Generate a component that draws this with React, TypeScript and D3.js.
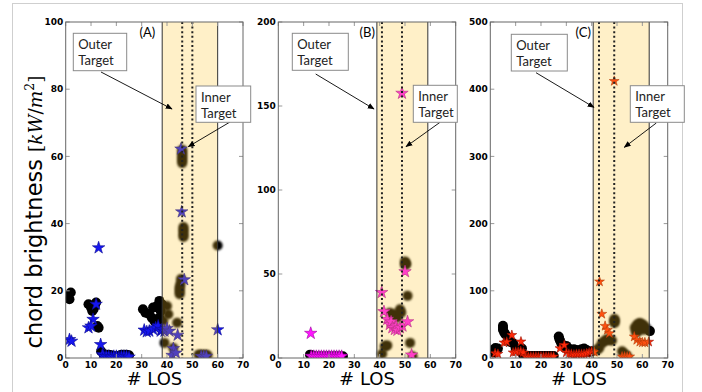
import React from "react";
import * as d3 from "d3";

type Pt = [number, number];

// Shared axis ticks
const xTicks = [0, 10, 20, 30, 40, 50, 60, 70];
const yTicksA = [0, 20, 40, 60, 80, 100];
const yTicksB = [0, 50, 100, 150, 200];
const yTicksC = [0, 100, 200, 300, 400, 500];

// Panel A: measured chords (circles) and model (stars)
const circlesA: Pt[] = [
  [1.5, 17.5], [2, 19.5], [1, 18.5],
  [9, 16], [10, 15], [11, 14.5], [12, 16.5], [11.5, 15.5], [10.5, 14],
  [13, 9], [12.5, 9.5],
  [14, 2], [15, 1], [16, 1], [17, 1], [18, 0.8], [19, 0.5], [20, 0.5], [21, 0.5], [22, 1], [23, 1], [24, 1], [25, 0.8],
  [30.5, 14.5], [31.5, 13.5], [33, 13], [34, 12], [34.5, 15], [35, 11], [36, 15.5], [37, 17], [38, 16], [37, 12], [36, 10], [37.5, 14], [38.5, 11],
  [39, 4.5], [40, 15.5], [40.5, 13], [42.5, 3], [44, 10.5],
  [45, 19], [45, 20], [45, 21], [45.3, 22], [45.5, 23.5],
  [46, 58], [46, 59], [46, 60], [46, 61], [46, 62],
  [46.5, 36], [46.5, 37], [46.5, 38], [46.5, 39],
  [60, 33.5], [52.5, 1], [53.5, 1], [55, 1], [56, 0.8],
];
const starsA: Pt[] = [
  [1.5, 5.5], [2.3, 5], [13, 32.8], [12, 16], [10.8, 11.5], [9, 9], [10, 9.5], [13.8, 4],
  [14.5, 1], [15, 0.5], [16, 0.5], [17, 0.5], [18, 0.3], [19, 0.5], [20, 0.5], [21, 0.3], [22, 0.5], [23, 0.5], [24, 0.5], [25, 0.3],
  [31, 8.3], [32, 7.8], [33, 8], [34.5, 8.5], [35.5, 9], [36.5, 9.5], [37.5, 8], [38, 8.5], [39, 8], [40, 8.8], [41, 8],
  [44.2, 6.8], [42.5, 2.8], [42, 0.8], [43.5, 1.5],
  [45.5, 62.2], [45.8, 43.5], [46.8, 23.3], [60, 8.4],
  [53.5, 0.5], [54.5, 0.5], [55.5, 0.5],
];

// Panel B
const circlesB: Pt[] = [
  [12.5, 2], [13.5, 1.5], [15, 1], [16.5, 1], [18, 1], [19.5, 1], [21, 1], [22.5, 1], [24, 1], [25.5, 1],
  [41, 2.5], [42, 7], [43, 7.5], [44, 27], [45, 25], [46, 26], [47, 24], [48, 29], [48.5, 27],
  [50, 55.5], [50, 57.5], [50.5, 56], [51, 37], [52, 9], [53, 1],
];
const starsB: Pt[] = [
  [12.8, 14.7],
  [13, 1], [14, 1], [15, 1], [16, 1], [17, 1], [18, 1], [19, 1], [20, 1], [21, 1], [22, 1], [23, 1], [24, 1], [25, 1],
  [40.8, 39], [41.7, 27.6], [43, 23], [44, 20], [44.5, 21.5], [45, 18], [46, 17], [46.5, 19], [47, 16.5], [48, 18], [49, 19],
  [50, 51.4], [51, 21.6], [52.6, 1.8], [48.8, 157.6],
];

// Panel C
const circlesC: Pt[] = [
  [1, 12], [2, 15], [3, 14], [1.5, 8],
  [5, 48], [5, 45], [5, 42], [5.5, 38], [6, 35],
  [7, 30], [7.5, 27], [8, 24], [9, 22], [10, 15], [11, 12], [12, 10], [12.5, 14],
  [13, 4], [14, 3], [15, 3], [16, 3], [17, 3], [18, 3], [19, 3], [20, 3], [21, 3], [22, 3], [23, 3], [24, 3], [25, 3],
  [27, 32], [27.2, 29], [27.5, 26], [28, 22], [29, 18], [30, 18], [31, 14], [32, 12], [33, 13], [34, 12], [35, 11], [36, 13], [37, 14], [38, 12], [39, 9], [40, 10],
  [42, 12], [43, 15], [44, 22], [45, 25], [46, 28], [47, 27], [48, 26],
  [49, 52], [49, 55], [49, 58], [52, 10], [53, 6], [54, 3],
  [57, 45], [58, 50], [59, 52], [60, 50], [61, 47], [62, 42], [63, 40], [58, 40], [60, 42], [59, 47], [57.5, 38],
];
const starsC: Pt[] = [
  [1.9, 7], [3, 6], [5.4, 22.8], [6.5, 24], [8.5, 34], [12.1, 24.3],
  [9, 8], [10, 9], [11, 9], [12, 10], [13, 8],
  [14, 2], [15, 2], [16, 2], [17, 2], [18, 2], [19, 2], [20, 2], [21, 2], [22, 2], [23, 2], [24, 2], [25, 2],
  [27.5, 14.4], [29.2, 19.3], [30, 8], [31, 6], [32, 6], [33, 5], [34, 6], [35, 6], [36, 6], [37, 6], [38, 7], [39, 8], [40, 10], [41, 9],
  [43.1, 113.6], [44, 65.5], [45.3, 47.6], [46.2, 41.7], [47, 36.7], [48.9, 412],
  [56.8, 31.7], [57.8, 26.7], [59, 24], [60, 23], [61, 23], [62.5, 24],
  [52, 2], [53, 2], [54, 2], [55, 2],
];

// Target region (shaded) and target positions (dotted) per panel, in # LOS
const zoneA = [38.1, 60];
const zoneB = [38.9, 59];
const zoneC = [40.6, 62.7];
const targetsA = [46, 50];
const targetsB = [40.9, 48.8];
const targetsC = [42.9, 48.9];

type Box = { x: number; y: number; w: number; h: number; lines: string[] };
type Arrow = [number, number, number, number];

interface PanelDef {
  id: string;
  left: number;
  right: number;
  yMax: number;
  yTicks: number[];
  circles: Pt[];
  stars: Pt[];
  starColor: string;
  starEdge: string;
  starSize: number;
  zone: number[];
  targets: number[];
  tag: [number, string];
  boxes: Box[];
  arrows: Arrow[];
}

const TOP = 22;
const BOTTOM = 358;

const panels: PanelDef[] = [
  {
    id: "A", left: 65.7, right: 243, yMax: 100, yTicks: yTicksA,
    circles: circlesA, stars: starsA, starColor: "#1616f0", starEdge: "#0a0a90", starSize: 48,
    zone: zoneA, targets: targetsA, tag: [139.5, "(A)"],
    boxes: [
      { x: 73.3, y: 33.3, w: 53.4, h: 37.4, lines: ["Outer", "Target"] },
      { x: 196, y: 86, w: 54.7, h: 36.3, lines: ["Inner", "Target"] },
    ],
    arrows: [[101, 72, 172, 109], [230, 122, 188.3, 146.7]],
  },
  {
    id: "B", left: 278.3, right: 455.7, yMax: 200, yTicks: yTicksB,
    circles: circlesB, stars: starsB, starColor: "#ff14ff", starEdge: "#a000a0", starSize: 48,
    zone: zoneB, targets: targetsB, tag: [359.5, "(B)"],
    boxes: [
      { x: 292.3, y: 33.3, w: 56, h: 37, lines: ["Outer", "Target"] },
      { x: 413.3, y: 85.3, w: 44, h: 37, lines: ["Inner", "Target"] },
    ],
    arrows: [[315.7, 74, 374, 109], [440, 122.3, 406, 146.7]],
  },
  {
    id: "C", left: 490.3, right: 667.7, yMax: 500, yTicks: yTicksC,
    circles: circlesC, stars: starsC, starColor: "#ff2a0a", starEdge: "#9a1000", starSize: 30,
    zone: zoneC, targets: targetsC, tag: [575.5, "(C)"],
    boxes: [
      { x: 511.3, y: 34.3, w: 56, h: 36.7, lines: ["Outer", "Target"] },
      { x: 630.3, y: 85.7, w: 54, h: 36.6, lines: ["Inner", "Target"] },
    ],
    arrows: [[536, 72.7, 594, 107.3], [656.3, 123, 624.3, 147.3]],
  },
];

const tickFont = "'DejaVu Sans', sans-serif";
const boxFont = "Lato, 'Open Sans', sans-serif";
const mathFont = "'DejaVu Serif', serif";

function Panel({ p }: { p: PanelDef }) {
  const x = d3.scaleLinear().domain([0, 70]).range([p.left, p.right]);
  const y = d3.scaleLinear().domain([0, p.yMax]).range([BOTTOM, TOP]);
  const star = d3.symbol().type(d3.symbolStar).size(p.starSize)();
  const clipId = `clip-${p.id}`;
  const inZone = (v: number) => v >= p.zone[0] && v <= p.zone[1];

  return (
    <g>
      <defs>
        <clipPath id={clipId}>
          <rect x={p.left} y={TOP} width={p.right - p.left} height={BOTTOM - TOP} />
        </clipPath>
      </defs>
      <g clipPath={`url(#${clipId})`}>
        {p.circles.map(([cx, cy], i) => (
          <circle key={`c${i}`} cx={x(cx)} cy={y(cy)} r={5}
            fill="#000" filter={inZone(cx) ? "url(#soft)" : undefined} />
        ))}
        {p.stars.map(([sx, sy], i) => (
          <path key={`s${i}`} d={star!} transform={`translate(${x(sx)},${y(sy)})`}
            fill={p.starColor} stroke={p.starEdge} strokeWidth={0.6} />
        ))}
        {/* translucent target band drawn over the markers */}
        <rect x={x(p.zone[0])} y={TOP} width={x(p.zone[1]) - x(p.zone[0])} height={BOTTOM - TOP}
          fill="#ffc323" fillOpacity={0.25} />
        <line x1={x(p.zone[0])} x2={x(p.zone[0])} y1={TOP} y2={BOTTOM} stroke="#333" strokeWidth={1} />
        <line x1={x(p.zone[1])} x2={x(p.zone[1])} y1={TOP} y2={BOTTOM} stroke="#333" strokeWidth={1} />
        {p.targets.map((t, i) => (
          <line key={`t${i}`} x1={x(t)} x2={x(t)} y1={TOP} y2={BOTTOM}
            stroke="#222" strokeWidth={2} strokeDasharray="2 2.6" />
        ))}
      </g>

      {/* ticks, inward on all four sides */}
      {xTicks.map((t) => (
        <g key={`xt${t}`}>
          <line x1={x(t)} x2={x(t)} y1={BOTTOM} y2={BOTTOM - 4} stroke="#999" />
          <line x1={x(t)} x2={x(t)} y1={TOP} y2={TOP + 4} stroke="#999" />
          <text x={x(t)} y={367.5} textAnchor="middle" fontFamily={tickFont} fontWeight="bold" fontSize={9}>{t}</text>
        </g>
      ))}
      {p.yTicks.map((t) => (
        <g key={`yt${t}`}>
          <line x1={p.left} x2={p.left + 4} y1={y(t)} y2={y(t)} stroke="#999" />
          <line x1={p.right} x2={p.right - 4} y1={y(t)} y2={y(t)} stroke="#999" />
          <text x={p.left - 2.5} y={y(t)} dy="0.36em" textAnchor="end" fontFamily={tickFont} fontWeight="bold" fontSize={9}>{t}</text>
        </g>
      ))}
      <rect x={p.left} y={TOP} width={p.right - p.left} height={BOTTOM - TOP} fill="none" stroke="#666" strokeWidth={1} />

      <text x={(p.left + p.right) / 2} y={385} textAnchor="middle" fontFamily={tickFont} fontSize={18}># LOS</text>
      <text x={p.tag[0]} y={37} fontFamily={boxFont} fontSize={13}>{p.tag[1]}</text>

      {p.arrows.map(([x1, y1, x2, y2], i) => (
        <line key={`a${i}`} x1={x1} y1={y1} x2={x2} y2={y2} stroke="#000" strokeWidth={0.9} markerEnd="url(#head)" />
      ))}
      {p.boxes.map((b, i) => (
        <g key={`b${i}`}>
          <rect x={b.x} y={b.y} width={b.w} height={b.h} fill="#fff" stroke="#8a8a8a" strokeWidth={1} />
          {b.lines.map((l, j) => (
            <text key={j} x={b.x + 5} y={b.y + 15.5 + j * 16} fontFamily={boxFont} fontSize={13} fill="#222">{l}</text>
          ))}
        </g>
      ))}
    </g>
  );
}

export default function App() {
  return (
    <svg width={702} height={392} style={{ display: "block", position: "absolute", left: 0, top: 0, background: "#fff" }}>
      <defs>
        <filter id="soft" x="-50%" y="-50%" width="200%" height="200%">
          <feGaussianBlur stdDeviation="0.8" />
        </filter>
        <marker id="head" viewBox="0 0 10 10" refX="9" refY="5" markerWidth="7" markerHeight="7" orient="auto-start-reverse" markerUnits="userSpaceOnUse">
          <path d="M0,1 L10,5 L0,9 Z" fill="#000" />
        </marker>
      </defs>
      <rect x={12.5} y={3.5} width={670} height={420} fill="none" stroke="#cfcfcf" strokeWidth={1} />
      {panels.map((p) => (
        <Panel key={p.id} p={p} />
      ))}
      <text transform="translate(42,212) rotate(-90)" textAnchor="middle" fontFamily={tickFont} fontSize={22.5}>
        chord brightness{" "}
        <tspan fontFamily={mathFont} fontSize={18.5}>[</tspan>
        <tspan fontFamily={mathFont} fontSize={18.5} fontStyle="italic">kW</tspan>
        <tspan fontFamily={mathFont} fontSize={18.5}>/</tspan>
        <tspan fontFamily={mathFont} fontSize={18.5} fontStyle="italic">m</tspan>
        <tspan fontFamily={mathFont} fontSize={12.5} dy={-8}>2</tspan>
        <tspan fontFamily={mathFont} fontSize={18.5} dy={8}>]</tspan>
      </text>
    </svg>
  );
}
